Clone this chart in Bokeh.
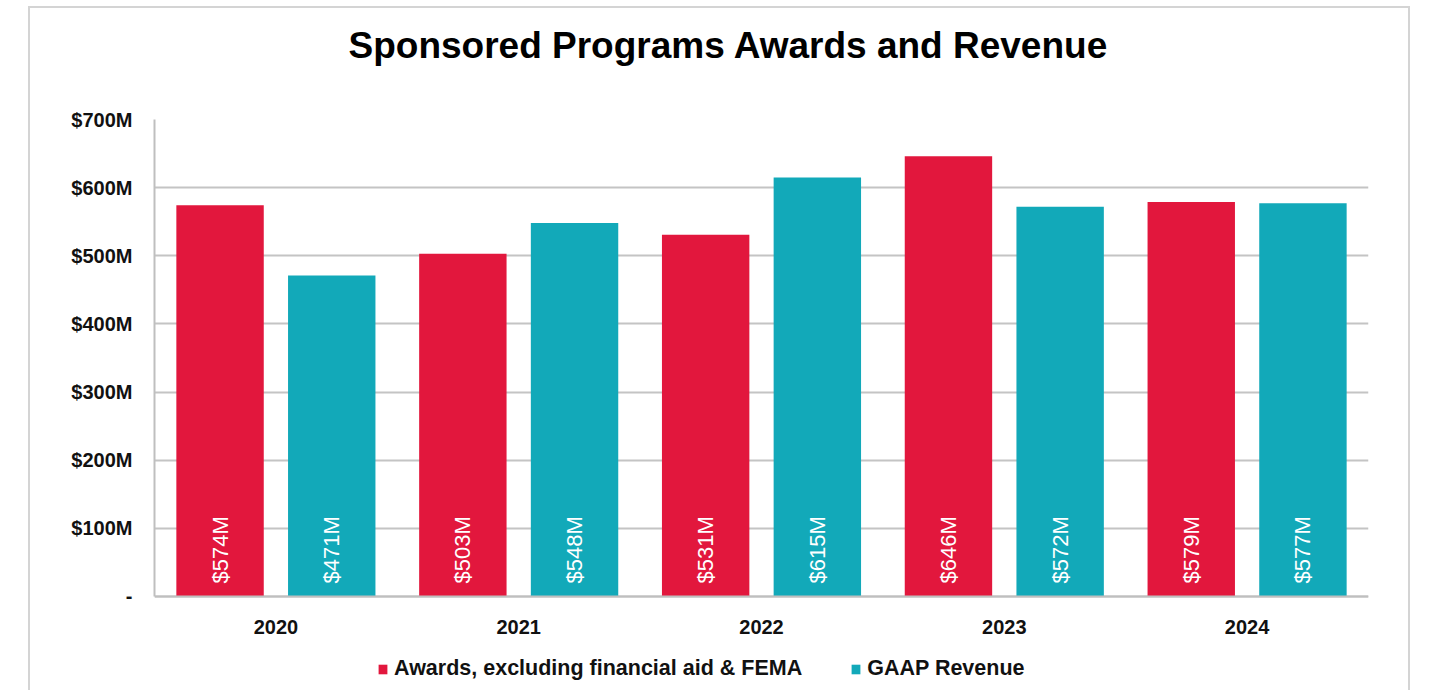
import math
from bokeh.plotting import figure
from bokeh.models import (FactorRange, FixedTicker, Legend, LegendItem, ColumnDataSource,
                          Range1d, Title, Span)
from bokeh.transform import dodge
from bokeh.core.properties import value
from bokeh.embed import file_html
from bokeh.resources import INLINE

years = ["2020", "2021", "2022", "2023", "2024"]
awards = [574, 503, 531, 646, 579]
revenue = [471, 548, 615, 572, 577]
series_names = ["Awards, excluding financial aid & FEMA", "GAAP Revenue"]
y_ticks = [0, 100, 200, 300, 400, 500, 600, 700]
y_tick_labels = ["-", "$100M", "$200M", "$300M", "$400M", "$500M", "$600M", "$700M"]
chart_title = "Sponsored Programs Awards and Revenue"

RED = "#E2173D"
TEAL = "#12A9B9"
FONT = "Liberation Sans"

src = ColumnDataSource(dict(
    year=years, awards=awards, revenue=revenue,
    awards_lbl=[f"${v}M" for v in awards],
    revenue_lbl=[f"${v}M" for v in revenue],
    zero=[0] * len(years),
))

# the frame extends below zero so the category labels and legend sit inside it
p = figure(x_range=FactorRange(*years), y_range=Range1d(-138, 700), title=None,
           frame_width=1214, frame_height=571, output_backend="svg", toolbar_location=None,
           min_border_left=124, min_border_right=40, min_border_top=111, min_border_bottom=0)
p.margin = (6, 0, 0, 28)
p.styles = {"border": "2px solid #d4d4d4", "border-bottom": "none"}

# spacer (nearest the frame) then the real title
p.add_layout(Title(text=" ", text_font_size="10px", standoff=36), "above")
p.add_layout(Title(text=chart_title, text_font=FONT, text_font_size="37px",
                   text_font_style="bold", text_color="#000000", align="left",
                   offset=194, standoff=10), "above")

r1 = p.vbar(x=dodge("year", -0.23, range=p.x_range), top="awards", width=0.36, source=src,
            fill_color=RED, line_color=None)
r2 = p.vbar(x=dodge("year", 0.23, range=p.x_range), top="revenue", width=0.36, source=src,
            fill_color=TEAL, line_color=None)

for xoff, col in ((-0.23, "awards_lbl"), (0.23, "revenue_lbl")):
    p.text(x=dodge("year", xoff, range=p.x_range), y="zero", text=col, source=src,
           angle=math.pi / 2, text_align="left", text_baseline="middle",
           y_offset=-13, text_color="white", text_font=value(FONT), text_font_size="22px")

# category labels under the baseline
p.text(x="year", y="zero", text="year", source=src, y_offset=31,
       text_align="center", text_baseline="middle", text_color="#111111",
       text_font=value(FONT), text_font_size="20px", text_font_style="bold")

# baseline
p.add_layout(Span(location=0, dimension="width", line_color="#bfbfbf", line_width=2))

p.xaxis.visible = False
p.yaxis.ticker = FixedTicker(ticks=y_ticks)
p.yaxis.major_label_overrides = {t: l for t, l in zip(y_ticks, y_tick_labels)}
p.yaxis.bounds = (0, 700)
p.yaxis.major_tick_line_color = None
p.yaxis.minor_tick_line_color = None
p.yaxis.major_tick_out = 0
p.yaxis.major_tick_in = 0
p.yaxis.axis_line_color = "#bfbfbf"
p.yaxis.axis_line_width = 2
p.yaxis.major_label_text_font = FONT
p.yaxis.major_label_text_font_style = "bold"
p.yaxis.major_label_text_font_size = "20px"
p.yaxis.major_label_text_color = "#111111"
p.yaxis.major_label_standoff = 22

p.xgrid.grid_line_color = None
p.ygrid.grid_line_color = "#c4c4c4"
p.ygrid.grid_line_width = 2
p.outline_line_color = None
p.x_range.range_padding = 0
p.x_range.group_padding = 0

legend = Legend(items=[LegendItem(label=series_names[0], renderers=[r1]),
                       LegendItem(label=series_names[1], renderers=[r2])],
                orientation="horizontal", location=(223, 9),
                label_text_font=FONT, label_text_font_size="21.5px", label_text_font_style="bold",
                label_text_color="#111111",
                glyph_width=11, glyph_height=12, spacing=48, label_standoff=6,
                padding=0, border_line_color=None, background_fill_alpha=0, margin=0)
p.add_layout(legend, "center")

open("out.html", "w").write(file_html(p, INLINE))
